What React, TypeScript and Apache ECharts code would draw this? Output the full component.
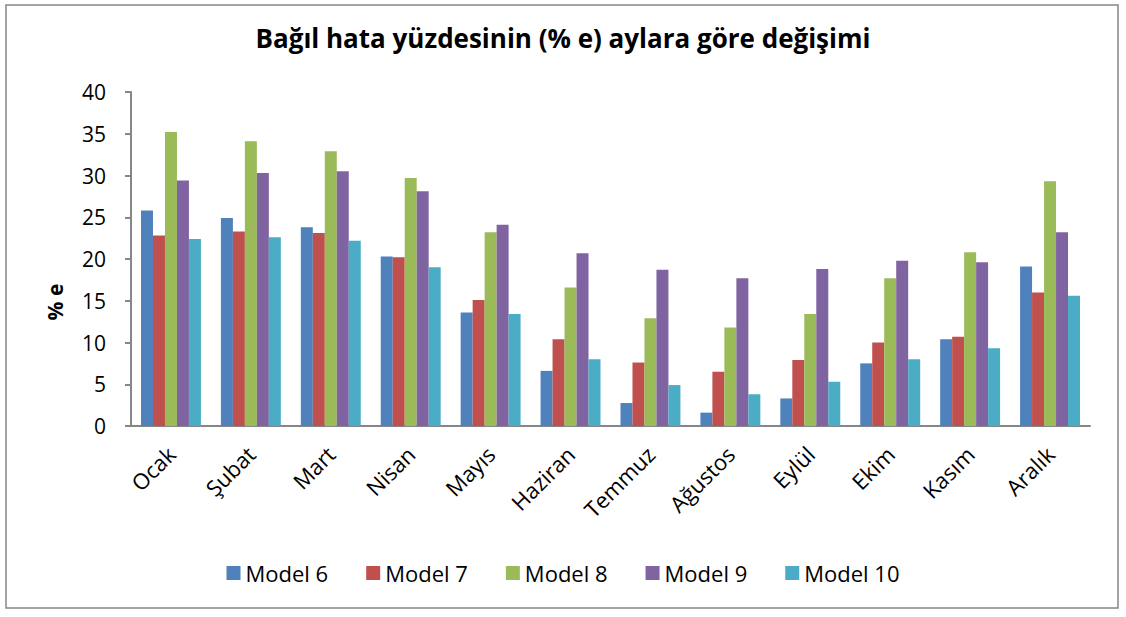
import React, { useEffect, useRef } from "react";
import * as echarts from "echarts";

const months = ["Ocak", "Şubat", "Mart", "Nisan", "Mayıs", "Haziran", "Temmuz", "Ağustos", "Eylül", "Ekim", "Kasım", "Aralık"];
const model6 = [25.8, 24.9, 23.8, 20.3, 13.6, 6.6, 2.75, 1.6, 3.3, 7.5, 10.4, 19.1];
const model7 = [22.8, 23.3, 23.1, 20.2, 15.1, 10.4, 7.6, 6.5, 7.9, 10.0, 10.7, 16.0];
const model8 = [35.2, 34.1, 32.9, 29.7, 23.2, 16.6, 12.9, 11.8, 13.4, 17.7, 20.8, 29.3];
const model9 = [29.4, 30.3, 30.5, 28.1, 24.1, 20.7, 18.7, 17.7, 18.8, 19.8, 19.6, 23.2];
const model10 = [22.4, 22.6, 22.2, 19.0, 13.4, 8.0, 4.9, 3.8, 5.3, 8.0, 9.3, 15.6];
const seriesNames = ["Model 6", "Model 7", "Model 8", "Model 9", "Model 10"];
const colors = ["#4F81BD", "#C0504D", "#9BBB59", "#8064A2", "#4BACC6"];

const FONT = "Open Sans";

export default function App() {
  const ref = useRef<HTMLDivElement>(null);
  useEffect(() => {
    document.body.style.margin = "0";
    const chart = echarts.init(ref.current!, null, { renderer: "svg" });
    const data = [model6, model7, model8, model9, model10];
    chart.setOption({
      animation: false,
      backgroundColor: "#fff",
      color: colors,
      title: {
        text: "Bağıl hata yüzdesinin (% e) aylara göre değişimi",
        left: "center",
        top: 20,
        textStyle: { fontFamily: FONT, fontWeight: "bold", fontSize: 26, color: "#000" },
      },
      legend: {
        bottom: 28,
        left: "center",
        icon: "rect",
        itemWidth: 14,
        itemHeight: 14,
        itemGap: 38,
        textStyle: { fontFamily: FONT, fontSize: 22, color: "#000" },
        data: seriesNames,
      },
      grid: { left: 131, right: 36, top: 92, bottom: 191 },
      xAxis: {
        type: "category",
        data: months,
        axisLine: { lineStyle: { color: "#868686", width: 2 } },
        axisTick: { length: 8, lineStyle: { color: "#868686", width: 2 } },
        axisLabel: { rotate: 45, fontFamily: FONT, fontSize: 22, color: "#000", margin: 24 },
      },
      yAxis: {
        type: "value",
        min: 0,
        max: 40,
        interval: 5,
        splitLine: { show: false },
        axisLine: { show: true, lineStyle: { color: "#868686", width: 2 } },
        axisTick: { show: true, length: 6, lineStyle: { color: "#868686", width: 2 } },
        axisLabel: { fontFamily: FONT, fontSize: 21, color: "#000", margin: 25 },
      },
      graphic: [
        {
          type: "rect",
          shape: { x: 6, y: 5, width: 1112, height: 603 },
          style: { fill: "none", stroke: "#868686", lineWidth: 1.5 },
          silent: true,
        },
        {
          type: "text",
          x: 55,
          y: 302,
          rotation: Math.PI / 2,
          style: {
            text: "% e",
            fontFamily: FONT,
            fontWeight: "bold",
            fontSize: 21,
            fill: "#000",
            align: "center",
            verticalAlign: "middle",
          },
        },
      ],
      series: seriesNames.map((name, i) => ({
        name,
        type: "bar",
        data: data[i],
        barGap: "0%",
        barCategoryGap: "25%",
        itemStyle: { color: colors[i] },
      })),
    });
    return () => chart.dispose();
  }, []);
  return <div ref={ref} style={{ width: 1126, height: 617 }} />;
}
